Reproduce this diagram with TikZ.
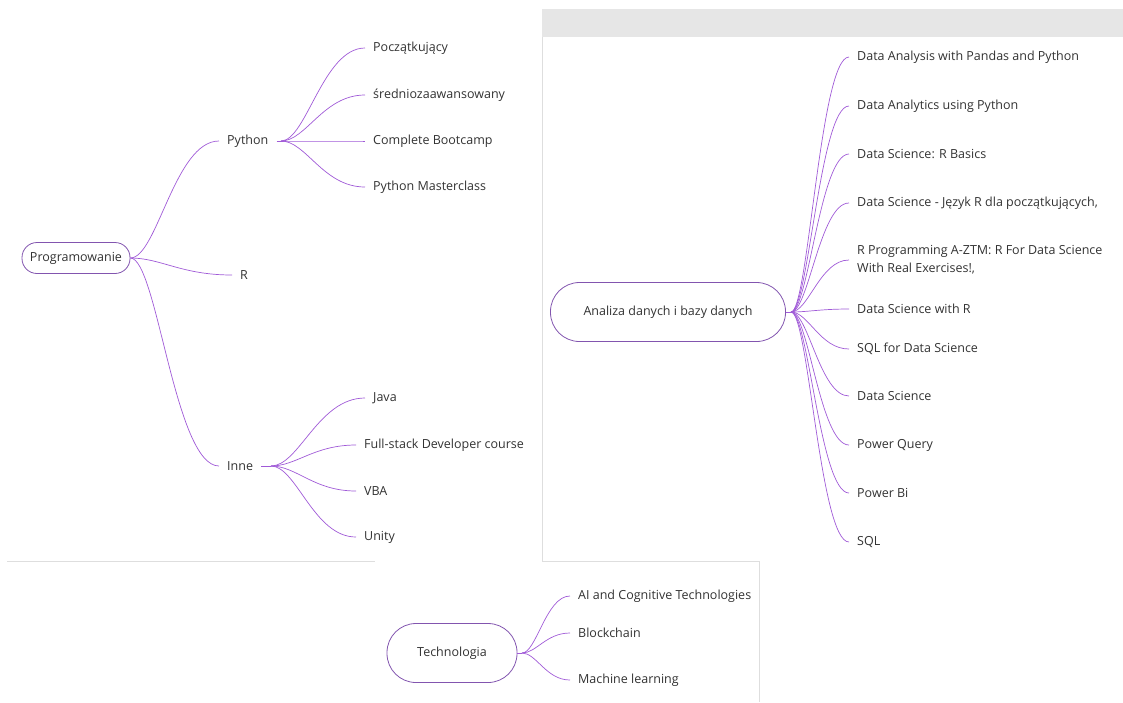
\documentclass[tikz,border=0pt]{standalone}
\usepackage{fontspec}
\setmainfont{Open Sans}
\usetikzlibrary{calc,positioning}
\definecolor{twig}{RGB}{160,90,215}
\definecolor{rim}{RGB}{130,85,175}
\definecolor{ink}{RGB}{50,50,50}
\definecolor{pane}{RGB}{230,230,230}
\definecolor{seam}{RGB}{222,222,222}

\begin{document}
\begin{tikzpicture}[x=1pt, y=-1pt, font=\fontsize{12.5}{18}\selectfont,
  root/.style = {draw=rim, line width=0.8pt, text=ink},
  leaf/.style = {anchor=west, inner xsep=8pt, inner ysep=1pt, text=ink},
  twig/.style = {draw=twig, line width=0.7pt},
  fork/.style = {to path={let \p1=(\tikztostart), \p2=(\tikztotarget) in
      .. controls (0.7*\x1+0.3*\x2,\y1) and (0.5*\x1+0.5*\x2,\y2) .. (\tikztotarget)}}]
\useasboundingbox (0,0) rectangle (1123,702);

% frames of the three screenshots
\fill[pane] (542,9) rectangle (1123,37);
\draw[seam, line width=1pt] (542,37) -- (542,561);
\draw[seam, line width=1pt] (7,561) -- (375,561);
\draw[seam, line width=1pt] (542,561) -- (759,561) -- (759,702);

% Programowanie
\node[root, minimum width=108pt, minimum height=31pt, rounded corners=15pt] (prog) at (76,258) {Programowanie};
\node[leaf] (py) at (219,141) {Python};
\node[leaf] (r) at (232,275) {R};
\node[leaf] (inne) at (219,466) {Inne};
\coordinate (pyhub) at (281,141);
\coordinate (innehub) at (271,466);
\node[leaf] (py1) at (365,48) {Początkujący};
\node[leaf] (py2) at (365,95) {średniozaawansowany};
\node[leaf] (py3) at (365,141) {Complete Bootcamp};
\node[leaf] (py4) at (365,187) {Python Masterclass};
\node[leaf] (in1) at (365,398) {Java};
\node[leaf] (in2) at (356,445) {Full-stack Developer course};
\node[leaf] (in3) at (356,491) {VBA};
\node[leaf] (in4) at (356,537) {Unity};

\draw[twig] (prog.east) to[fork] (py.west);
\draw[twig] (prog.east) to[fork] (r.west);
\draw[twig] (prog.east) to[fork] (inne.west);
\draw[twig] (py.east) -- (pyhub);
\draw[twig] (pyhub) to[fork] (py1.west);
\draw[twig] (pyhub) to[fork] (py2.west);
\draw[twig] (pyhub) to[fork] (py3.west);
\draw[twig] (pyhub) to[fork] (py4.west);
\draw[twig] (inne.east) -- (innehub);
\draw[twig] (innehub) to[fork] (in1.west);
\draw[twig] (innehub) to[fork] (in2.west);
\draw[twig] (innehub) to[fork] (in3.west);
\draw[twig] (innehub) to[fork] (in4.west);

% Analiza danych
\node[root, minimum width=235pt, minimum height=59pt, rounded corners=29pt] (anal) at (668,312) {Analiza danych i bazy danych};
\coordinate (analhub) at (791,312);
\node[leaf] (da1) at (849,57) {Data Analysis with Pandas and Python};
\node[leaf] (da2) at (849,106) {Data Analytics using Python};
\node[leaf] (da3) at (849,154) {Data Science: R Basics};
\node[leaf] (da4) at (849,203) {Data Science - Język R dla początkujących,};
\node[leaf, align=left] (da5) at (849,260) {R Programming A-ZTM: R For Data Science\\With Real Exercises!,};
\node[leaf] (da6) at (849,309) {Data Science with R};
\node[leaf] (da7) at (849,349) {SQL for Data Science};
\node[leaf] (da8) at (849,396) {Data Science};
\node[leaf] (da9) at (849,445) {Power Query};
\node[leaf] (da10) at (849,493) {Power Bi};
\node[leaf] (da11) at (849,542) {SQL};

\draw[twig] (anal.east) -- (analhub);
\draw[twig] (analhub) to[fork] (da1.west);
\draw[twig] (analhub) to[fork] (da2.west);
\draw[twig] (analhub) to[fork] (da3.west);
\draw[twig] (analhub) to[fork] (da4.west);
\draw[twig] (analhub) to[fork] (da5.west);
\draw[twig] (analhub) to[fork] (da6.west);
\draw[twig] (analhub) to[fork] (da7.west);
\draw[twig] (analhub) to[fork] (da8.west);
\draw[twig] (analhub) to[fork] (da9.west);
\draw[twig] (analhub) to[fork] (da10.west);
\draw[twig] (analhub) to[fork] (da11.west);

% Technologia
\node[root, minimum width=130pt, minimum height=59pt, rounded corners=29pt] (tech) at (452,653) {Technologia};
\coordinate (techhub) at (522,653);
\node[leaf] (te1) at (570,596) {AI and Cognitive Technologies};
\node[leaf] (te2) at (570,633) {Blockchain};
\node[leaf] (te3) at (570,680) {Machine learning};

\draw[twig] (tech.east) -- (techhub);
\draw[twig] (techhub) to[fork] (te1.west);
\draw[twig] (techhub) to[fork] (te2.west);
\draw[twig] (techhub) to[fork] (te3.west);
\end{tikzpicture}
\end{document}
